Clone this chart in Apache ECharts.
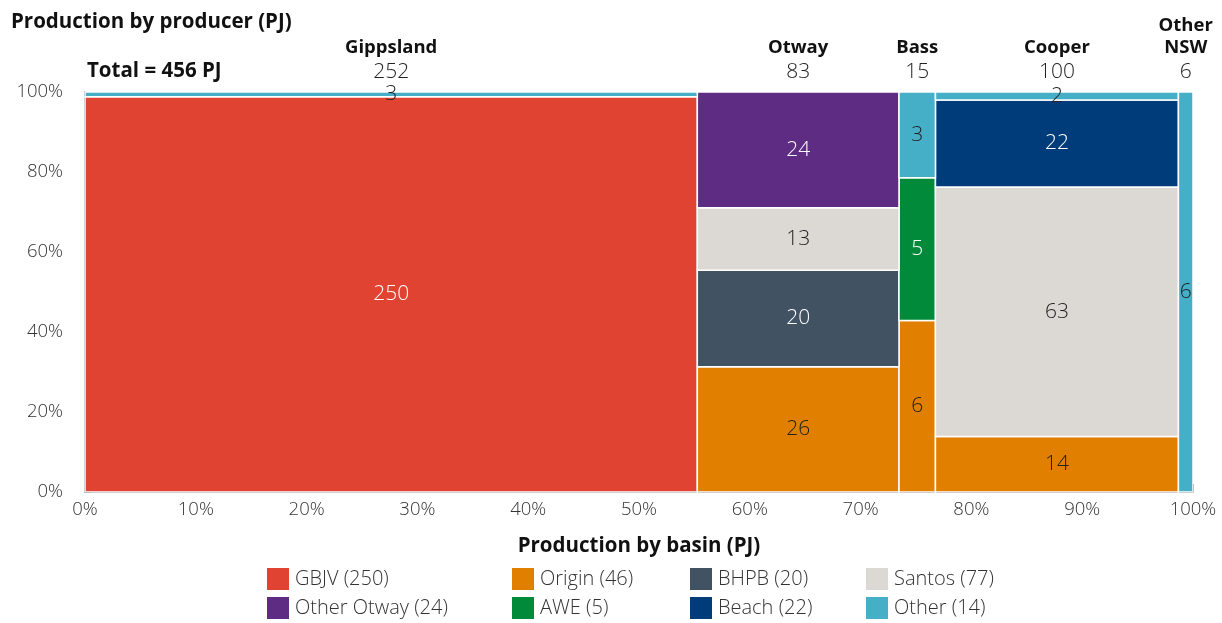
<!DOCTYPE html>
<html>
<head>
<meta charset="utf-8">
<script src="https://cdn.jsdelivr.net/npm/echarts@6/dist/echarts.min.js"></script>
<style>
  html, body { margin: 0; padding: 0; background: #fff; }
  #chart { width: 1222px; height: 623px; }
</style>
</head>
<body>
<div id="chart"></div>
<script>
// basins (columns), widths from basin totals
const basins = ['Gippsland', 'Otway', 'Bass', 'Cooper', 'Other\nNSW']
const basinTotals = [252, 83, 15, 100, 6]

// producers, stacked bottom to top in this order
const producers = ['GBJV', 'Origin', 'BHPB', 'AWE', 'Santos', 'Other Otway', 'Beach', 'Other']
const producerTotals = [250, 46, 20, 5, 77, 24, 22, 14]
const producerColors = ['#E04331', '#E07F00', '#415263', '#008A3A', '#DCD9D4', '#5E2C83', '#003B7A', '#46AFC8']
const labelColors = ['#fff', '#222', '#fff', '#fff', '#222', '#fff', '#fff', '#222']

// production by producer in each basin (PJ)
const gbjv = [250, 0, 0, 0, 0]
const origin = [0, 26, 6, 14, 0]
const bhpb = [0, 20, 0, 0, 0]
const awe = [0, 0, 5, 0, 0]
const santos = [0, 13, 0, 63, 0]
const otherOtway = [0, 24, 0, 0, 0]
const beach = [0, 0, 0, 22, 0]
const other = [3, 0, 3, 2, 6]
const values = [gbjv, origin, bhpb, awe, santos, otherOtway, beach, other]

const xTicks = [0, 10, 20, 30, 40, 50, 60, 70, 80, 90, 100]
const yTicks = [0, 20, 40, 60, 80, 100]

const FONT = '"Open Sans", Lato, sans-serif'
const grand = basinTotals.reduce((a, b) => a + b, 0)

// column edges in %
const colStart = []
let acc = 0
basinTotals.forEach(t => {
  colStart.push(acc / grand * 100)
  acc += t
})
const colEnd = basinTotals.map((t, i) => colStart[i] + t / grand * 100)
const colSums = basinTotals.map((_, c) => values.reduce((s, v) => s + v[c], 0))

// build cell data per producer: [x0, x1, y0, y1, value]
const cells = producers.map(() => [])
basinTotals.forEach((_, c) => {
  let base = 0
  values.forEach((v, p) => {
    if (v[c] > 0) {
      const h = v[c] / colSums[c] * 100
      cells[p].push([colStart[c], colEnd[c], base, base + h, v[c]])
      base += h
    }
  })
})

const chart = echarts.init(document.getElementById('chart'))

const rectSeries = producers.map((name, p) => ({
  name: name + ' (' + producerTotals[p] + ')',
  type: 'custom',
  itemStyle: { color: producerColors[p] },
  data: cells[p],
  encode: { x: [0, 1], y: [2, 3] },
  renderItem: (params, api) => {
    const p0 = api.coord([api.value(0), api.value(3)])
    const p1 = api.coord([api.value(1), api.value(2)])
    return {
      type: 'rect',
      shape: { x: p0[0], y: p0[1], width: p1[0] - p0[0], height: p1[1] - p0[1] },
      style: {
        fill: producerColors[p],
        stroke: '#fff',
        lineWidth: 1.5
      },
      textContent: {
        style: {
          text: String(api.value(4)),
          fill: labelColors[p],
          fontSize: 21,
          fontFamily: FONT,
          fontWeight: 300
        }
      },
      textConfig: { position: 'inside' }
    }
  }
}))

const headerData = basins.map((b, i) => [(colStart[i] + colEnd[i]) / 2, 100, i, basinTotals[i]])

const headerSeries = {
  type: 'custom',
  name: 'headers',
  silent: true,
  data: headerData,
  encode: { x: 0, y: 1 },
  renderItem: (params, api) => {
    const pt = api.coord([api.value(0), 100])
    const name = basins[params.dataIndex]
    return {
      type: 'group',
      children: [
        {
          type: 'text',
          style: {
            x: pt[0], y: pt[1] - 33,
            text: name,
            align: 'center',
            verticalAlign: 'bottom',
            fontSize: 18.5,
            fontWeight: 'bold',
            fontFamily: FONT,
            fill: '#111',
            lineHeight: 22
          }
        },
        {
          type: 'text',
          style: {
            x: pt[0], y: pt[1] - 20,
            text: String(api.value(3)),
            align: 'center',
            verticalAlign: 'middle',
            fontSize: 21,
            fontWeight: 300,
            fontFamily: FONT,
            fill: '#222'
          }
        }
      ]
    }
  }
}

const legendCols = [
  [0, 5], [1, 3], [2, 6], [4, 7]
]
const legendLefts = [267, 512, 690, 866]
const legends = legendCols.map((idx, k) => ({
  orient: 'vertical',
  left: legendLefts[k],
  top: 568,
  padding: 0,
  itemWidth: 22,
  itemHeight: 22,
  itemGap: 7,
  icon: 'rect',
  selectedMode: false,
  data: idx.map(p => producers[p] + ' (' + producerTotals[p] + ')'),
  textStyle: { fontSize: 20, fontFamily: FONT, fontWeight: 300, color: '#333', padding: [0, 0, 0, 1] }
}))

const option = {
  animation: false,
  textStyle: { fontFamily: FONT },
  title: [
    {
      text: 'Production by producer (PJ)',
      left: 6, top: 7,
      textStyle: { fontSize: 20.5, fontWeight: 'bold', color: '#111', fontFamily: FONT }
    },
    {
      text: 'Total = 456 PJ',
      left: 82, top: 56,
      textStyle: { fontSize: 20.5, fontWeight: 'bold', color: '#111', fontFamily: FONT }
    }
  ],
  legend: legends,
  grid: { left: 85, right: 29, top: 92, bottom: 131 },
  xAxis: {
    type: 'value',
    min: 0, max: 100, interval: 10,
    name: 'Production by basin (PJ)',
    nameLocation: 'middle',
    nameGap: 44,
    nameTextStyle: { fontSize: 20.5, fontWeight: 'bold', color: '#111', fontFamily: FONT },
    axisLine: { show: true, lineStyle: { color: '#000', width: 1.5 } },
    axisTick: { show: true, inside: true, length: 8, lineStyle: { color: '#000' } },
    axisLabel: {
      fontSize: 18.5, color: '#333', fontWeight: 300, margin: 8,
      formatter: v => xTicks.includes(v) ? v + '%' : ''
    },
    splitLine: { show: false }
  },
  yAxis: {
    type: 'value',
    min: 0, max: 100, interval: 20,
    axisLine: { show: true, lineStyle: { color: '#000', width: 1.5 } },
    axisTick: { show: true, inside: true, length: 6, lineStyle: { color: '#000' } },
    axisLabel: {
      fontSize: 18.5, color: '#333', fontWeight: 300, margin: 22,
      formatter: v => yTicks.includes(v) ? v + '%' : ''
    },
    splitLine: { show: false }
  },
  series: rectSeries.concat([headerSeries])
}

chart.setOption(option)
window.addEventListener('resize', () => chart.resize())
</script>
</body>
</html>
